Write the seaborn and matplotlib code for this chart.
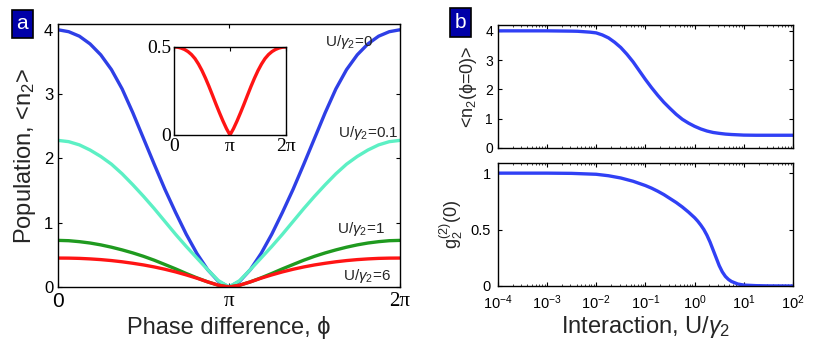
import numpy as np
import pandas as pd
import matplotlib
matplotlib.use("Agg")
import matplotlib.pyplot as plt
import seaborn as sns

sns.set_style("ticks")
plt.rcParams['font.family'] = ['Liberation Sans', 'DejaVu Sans']
plt.rcParams['mathtext.fontset'] = 'custom'
plt.rcParams['mathtext.rm'] = 'Liberation Sans'
plt.rcParams['mathtext.it'] = 'Liberation Sans:italic'

# ---------------- data ----------------
# phase samples, in units of pi (0 .. 1, step 1/16); curves are symmetric about pi
phi_half = [i / 16 for i in range(17)]
n_U0 = [4.00, 3.97, 3.90, 3.78, 3.61, 3.38, 3.08, 2.71, 2.31, 1.91, 1.52, 1.16, 0.82, 0.52, 0.27, 0.09, 0.0]
n_U01 = [2.28, 2.26, 2.21, 2.13, 2.03, 1.91, 1.76, 1.59, 1.41, 1.22, 1.02, 0.82, 0.63, 0.45, 0.27, 0.10, 0.0]
n_U1 = [0.725, 0.72, 0.705, 0.684, 0.655, 0.619, 0.577, 0.53, 0.477, 0.417, 0.35, 0.282, 0.21, 0.142, 0.08, 0.028, 0.0]
n_U6 = [0.45, 0.449, 0.445, 0.437, 0.426, 0.411, 0.392, 0.369, 0.343, 0.312, 0.276, 0.235, 0.188, 0.137, 0.08, 0.028, 0.0]
inset_vals = [0.5, 0.499, 0.494, 0.486, 0.474, 0.457, 0.434, 0.403, 0.366, 0.323, 0.276, 0.226, 0.175, 0.126, 0.079, 0.036, 0.0]
curve_labels = ["U/$\\gamma_2$=0", "U/$\\gamma_2$=0.1", "U/$\\gamma_2$=1", "U/$\\gamma_2$=6"]
curve_colors = ["#2e3fe6", "#5cf0c4", "#1f9a1f", "#ff1414"]

# panel b: log10(U/gamma2)
logU_top = [-4, -3, -2.5, -2.375, -2.25, -2.125, -2, -1.875, -1.75, -1.625, -1.5, -1.375, -1.25, -1.125,
            -1, -0.875, -0.75, -0.625, -0.5, -0.375, -0.25, -0.125, 0, 0.125, 0.25, 0.375, 0.5, 0.625,
            0.75, 0.875, 1, 1.25, 1.5, 2]
n_phi0 = [4.0, 4.0, 3.99, 3.985, 3.97, 3.955, 3.93, 3.86, 3.76, 3.61, 3.43, 3.20, 2.94, 2.64,
          2.34, 2.06, 1.80, 1.56, 1.35, 1.15, 0.98, 0.85, 0.74, 0.65, 0.58, 0.53, 0.50, 0.475,
          0.46, 0.45, 0.44, 0.435, 0.435, 0.435]
logU_bot = [-4, -3.5, -3, -2.5, -2, -1.75, -1.5, -1.25, -1, -0.875, -0.75, -0.625, -0.5, -0.375,
            -0.25, -0.125, 0, 0.0625, 0.125, 0.1875, 0.25, 0.3125, 0.375, 0.4375, 0.5, 0.5625,
            0.625, 0.6875, 0.75, 0.875, 1, 1.25, 1.5, 2]
g2 = [1.0, 1.0, 1.0, 0.998, 0.99, 0.977, 0.957, 0.928, 0.89, 0.867, 0.84, 0.81, 0.775, 0.74,
      0.70, 0.655, 0.605, 0.575, 0.54, 0.50, 0.45, 0.39, 0.32, 0.25, 0.18, 0.125,
      0.085, 0.058, 0.04, 0.018, 0.008, 0.003, 0.001, 0.0]

# full symmetric phase arrays
phi_full = np.array(phi_half + [2 - p for p in phi_half[::-1][1:]]) * np.pi
def full(v):
    return list(v) + list(v[::-1][1:])

fig = plt.figure(figsize=(8.3, 3.47), dpi=100)

def style_axes(ax, lw=1.0):
    for s in ax.spines.values():
        s.set_linewidth(lw)
        s.set_color('black')
    ax.tick_params(direction='in', top=True, right=True, length=3, width=0.8, colors='black')

# ---------------- panel a ----------------
axa = fig.add_axes([0.0699, 0.1729, 0.412, 0.758])
for vals, c in zip([n_U0, n_U01, n_U1, n_U6], curve_colors):
    df = pd.DataFrame({"phi": phi_full, "n": full(vals)})
    sns.lineplot(data=df, x="phi", y="n", ax=axa, color=c, lw=2.4, sort=False)
axa.set_xlim(0, 2 * np.pi)
axa.set_ylim(0, 4.09)
axa.set_xticks([0, np.pi, 2 * np.pi])
axa.set_xticklabels(["0", "π", "2π"], fontsize=15)
for t in axa.get_xticklabels()[1:]:
    t.set_family(['Liberation Serif', 'DejaVu Serif'])
axa.set_yticks([0, 1, 2, 3, 4])
axa.set_yticklabels(["0", "1", "2", "3", "4"], fontsize=12)
axa.set_xlabel("Phase difference, ϕ", fontsize=17, labelpad=4)
axa.set_ylabel("Population, <n$_2$>", fontsize=17, labelpad=4)
style_axes(axa)
ann_pos = [(4.905, 3.81), (5.15, 2.40), (5.13, 0.90), (5.24, 0.17)]
for lab, (x, y) in zip(curve_labels, ann_pos):
    axa.text(x, y, lab, fontsize=11, ha='left', va='center')

# inset
axi = fig.add_axes([0.2096, 0.611, 0.135, 0.2536])
dfi = pd.DataFrame({"phi": phi_full, "n": full(inset_vals)})
sns.lineplot(data=dfi, x="phi", y="n", ax=axi, color="#ff1414", lw=2.4, sort=False)
axi.set_xlim(0, 2 * np.pi)
axi.set_ylim(0, 0.5)
axi.set_xticks([0, np.pi, 2 * np.pi])
axi.set_xticklabels(["0", "π", "2π"], fontsize=14, family=['Liberation Serif', 'DejaVu Serif'])
axi.set_yticks([0, 0.5])
axi.set_yticklabels(["0", "0.5"], fontsize=14, family=['Liberation Serif', 'DejaVu Serif'])
axi.set_xlabel("")
axi.set_ylabel("")
style_axes(axi)
axi.tick_params(pad=2)

# ---------------- panel b ----------------
axb1 = fig.add_axes([0.5997, 0.5735, 0.3558, 0.3545])
dft = pd.DataFrame({"U": 10.0 ** np.array(logU_top), "n": n_phi0})
sns.lineplot(data=dft, x="U", y="n", ax=axb1, color="#3040f5", lw=2.4)
axb1.set_xscale('log')
axb1.set_xlim(1e-4, 1e2)
axb1.set_ylim(0, 4.2)
axb1.set_yticks([0, 1, 2, 3, 4])
axb1.set_xticklabels([])
axb1.set_xlabel("")
axb1.set_ylabel("<n$_2$(ϕ=0)>", fontsize=13, labelpad=4)
style_axes(axb1)
axb1.tick_params(which='minor', direction='in', top=True, length=1.5, width=0.6)
axb1.tick_params(axis='y', labelsize=10)

axb2 = fig.add_axes([0.5997, 0.1758, 0.3558, 0.3545])
dfb = pd.DataFrame({"U": 10.0 ** np.array(logU_bot), "g": g2})
sns.lineplot(data=dfb, x="U", y="g", ax=axb2, color="#3040f5", lw=2.4)
axb2.set_xscale('log')
axb2.set_xlim(1e-4, 1e2)
axb2.set_ylim(0, 1.09)
axb2.set_yticks([0, 0.5, 1])
axb2.set_yticklabels(["0", "0.5", "1"])
axb2.set_xticks([1e-4, 1e-3, 1e-2, 1e-1, 1e0, 1e1, 1e2])
axb2.set_xlabel("Interaction, U/$\\gamma_2$", fontsize=17, labelpad=2)
axb2.set_ylabel("g$_2^{(2)}$(0)", fontsize=13, labelpad=4)
style_axes(axb2)
axb2.tick_params(which='minor', direction='in', top=True, length=1.5, width=0.6)
axb2.tick_params(axis='both', labelsize=10.5)
axb2.tick_params(axis='x', pad=5)
axb2.tick_params(axis='y', pad=5)

# panel tags
for (x, y, s) in [(0.0105, 0.895, "a"), (0.5385, 0.898, "b")]:
    fig.text(x + 0.0165, y + 0.037, s, color='white', fontsize=15, ha='center', va='center',
             bbox=dict(boxstyle='square,pad=0.22', fc='#0000a8', ec='black', lw=1.2))

fig.savefig("out.png", dpi=100)
